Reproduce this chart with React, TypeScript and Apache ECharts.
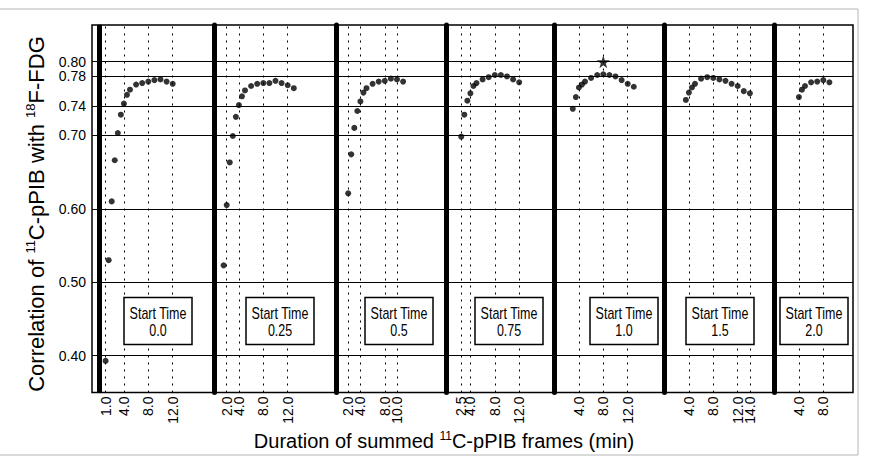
import React, { useEffect, useRef } from 'react';
import * as echarts from 'echarts';

// ---------- data ----------
const startTimes = ['0.0', '0.25', '0.5', '0.75', '1.0', '1.5', '2.0'];

const durations0 = [1, 1.5, 2, 2.5, 3, 3.5, 4, 4.5, 5, 6, 7, 8, 9, 10, 11, 12];
const corr0 = [0.393, 0.530, 0.610, 0.666, 0.703, 0.728, 0.743, 0.755, 0.762, 0.769, 0.771, 0.773, 0.775, 0.776, 0.773, 0.770];

const durations1 = [1.5, 2, 2.5, 3, 3.5, 4, 4.5, 5, 6, 7, 8, 9, 10, 11, 12, 13];
const corr1 = [0.523, 0.605, 0.663, 0.699, 0.725, 0.741, 0.753, 0.761, 0.767, 0.770, 0.771, 0.771, 0.774, 0.771, 0.768, 0.764];

const durations2 = [2, 2.5, 3, 3.5, 4, 4.5, 5, 6, 7, 8, 9, 10, 11];
const corr2 = [0.621, 0.674, 0.710, 0.733, 0.746, 0.758, 0.764, 0.770, 0.773, 0.774, 0.777, 0.776, 0.773];

const durations3 = [2.5, 3, 3.5, 4, 4.5, 5, 6, 7, 8, 9, 10, 11, 12];
const corr3 = [0.698, 0.728, 0.747, 0.757, 0.767, 0.771, 0.776, 0.779, 0.782, 0.782, 0.780, 0.776, 0.772];

const durations4 = [3, 3.5, 4, 4.5, 5, 6, 7, 8, 9, 10, 11, 12, 13];
const corr4 = [0.736, 0.752, 0.765, 0.769, 0.773, 0.778, 0.782, 0.783, 0.782, 0.780, 0.775, 0.770, 0.766];

const durations5 = [3.5, 4, 4.5, 5, 6, 7, 8, 9, 10, 11, 12, 13, 14];
const corr5 = [0.748, 0.758, 0.765, 0.770, 0.777, 0.779, 0.778, 0.776, 0.774, 0.770, 0.767, 0.760, 0.757];

const durations6 = [4, 4.5, 5, 6, 7, 8, 9];
const corr6 = [0.752, 0.762, 0.767, 0.772, 0.773, 0.775, 0.772];

const starPoint = [8, 0.80];
const starPanel = 4;

const xTicks0 = [1, 4, 8, 12];
const xTicks1 = [2, 4, 8, 12];
const xTicks2 = [2, 4, 8, 10];
const xTicks3 = [2.5, 4, 8, 12];
const xTicks4 = [4, 8, 12];
const xTicks5 = [4, 8, 12, 14];
const xTicks6 = [4, 8];

const yTicks = [0.40, 0.50, 0.60, 0.70, 0.74, 0.78, 0.80];
const yMin = 0.35;
const yMax = 0.85;

const durations = [durations0, durations1, durations2, durations3, durations4, durations5, durations6];
const corrs = [corr0, corr1, corr2, corr3, corr4, corr5, corr6];
const xTicks = [xTicks0, xTicks1, xTicks2, xTicks3, xTicks4, xTicks5, xTicks6];

// ---------- layout ----------
const plotLeft = 92;
const plotRight = 853;
const plotTop = 25;
const plotHeight = 367.5;
const panelZero = [99.5, 214.5, 336, 446, 554.5, 664.5, 774.5];
const PX_PER_MIN = 6.1;
const boxLeft = [124, 246, 365, 475, 590, 686, 780];
const boxTop = 297.5;
const boxW = 68;
const boxH = 47;

const FONT = 'Liberation Sans, Arial, Helvetica, sans-serif';
const STAR = 'path://M50,0 L61,35 L98,35 L68,57 L79,91 L50,70 L21,91 L32,57 L2,35 L39,35 Z';

function buildOption() {
  const grids: any[] = [];
  const xAxes: any[] = [];
  const yAxes: any[] = [];
  const series: any[] = [];
  const graphics: any[] = [];

  for (let i = 0; i < 7; i++) {
    const gl = i === 0 ? plotLeft : panelZero[i];
    const gr = i < 6 ? panelZero[i + 1] : plotRight;
    const xmin = (gl - panelZero[i]) / PX_PER_MIN;
    const xmax = (gr - panelZero[i]) / PX_PER_MIN;

    grids.push({
      left: gl,
      top: plotTop,
      width: gr - gl,
      height: plotHeight,
      show: true,
      borderColor: '#000',
      borderWidth: 1.5,
      backgroundColor: 'transparent',
      containLabel: false,
      outerBoundsMode: 'none',
    });

    // one x axis per tick label, so that no label is dropped for overlapping
    const mainXIndex = xAxes.length;
    xTicks[i].forEach((tick) => {
      xAxes.push({
        type: 'value',
        gridIndex: i,
        position: 'bottom',
        offset: 0,
        min: xmin,
        max: xmax,
        axisLine: { show: false },
        axisTick: { show: false },
        splitLine: { show: false },
        axisLabel: {
          customValues: [tick],
          rotate: 90,
          margin: 4,
          fontSize: 14,
          color: '#000',
          fontFamily: FONT,
          formatter: (v: number) => v.toFixed(1),
        },
      });
    });

    yAxes.push(
      i === 0
        ? {
            type: 'value',
            gridIndex: i,
            min: yMin,
            max: yMax,
            axisLine: { show: true, lineStyle: { color: '#000', width: 1.5 } },
            axisTick: { show: true, customValues: yTicks, length: 4, lineStyle: { color: '#000', width: 1 } },
            splitLine: { show: false },
            axisLabel: {
              customValues: yTicks,
              margin: 6,
              fontSize: 14,
              color: '#000',
              fontFamily: FONT,
              formatter: (v: number) => v.toFixed(2),
            },
          }
        : {
            type: 'value',
            gridIndex: i,
            min: yMin,
            max: yMax,
            axisLine: { show: true, lineStyle: { color: '#000', width: 5 } },
            axisTick: { show: false },
            splitLine: { show: false },
            axisLabel: { show: false },
          }
    );

    const mlData: any[] = [];
    yTicks.forEach((v) => mlData.push({ yAxis: v, lineStyle: { color: '#000', width: 1.2, type: 'solid' } }));
    xTicks[i].forEach((v) => mlData.push({ xAxis: v, lineStyle: { color: '#000', width: 1, type: [2, 5] } }));
    if (i === 0) mlData.push({ xAxis: 0, lineStyle: { color: '#000', width: 5, type: 'solid' } });

    series.push({
      type: 'scatter',
      xAxisIndex: mainXIndex,
      yAxisIndex: i,
      symbol: 'circle',
      symbolSize: 6,
      itemStyle: { color: '#000' },
      clip: false,
      z: 5,
      data: durations[i].map((d, k) => [d, corrs[i][k]]),
      markLine: {
        silent: true,
        symbol: ['none', 'none'],
        label: { show: false },
        z: 3,
        data: mlData,
      },
    });

    if (i === starPanel) {
      series.push({
        type: 'scatter',
        xAxisIndex: mainXIndex,
        yAxisIndex: i,
        symbol: STAR,
        symbolSize: 13,
        itemStyle: { color: '#000' },
        clip: false,
        z: 6,
        data: [starPoint],
      });
    }

    graphics.push({
      type: 'group',
      x: boxLeft[i],
      y: boxTop,
      z: 100,
      children: [
        {
          type: 'rect',
          shape: { x: 0, y: 0, width: boxW, height: boxH },
          style: { fill: '#fff', stroke: '#000', lineWidth: 1.5 },
          z: 100,
        },
        {
          type: 'text',
          x: boxW / 2,
          y: 16,
          scaleX: 0.78,
          z: 101,
          style: { text: 'Start Time', fill: '#000', font: `16px ${FONT}`, align: 'center', verticalAlign: 'middle' },
        },
        {
          type: 'text',
          x: boxW / 2,
          y: 33,
          scaleX: 0.78,
          z: 101,
          style: { text: startTimes[i], fill: '#000', font: `16px ${FONT}`, align: 'center', verticalAlign: 'middle' },
        },
      ],
    });
  }

  // figure frame
  graphics.push({
    type: 'rect',
    z: -1,
    shape: { x: -2, y: 9, width: 860, height: 446 },
    style: { fill: 'none', stroke: '#b4b4b4', lineWidth: 1 },
  });

  // axis titles
  graphics.push({
    type: 'text',
    x: 444,
    y: 441,
    z: 50,
    style: {
      text: 'Duration of summed {sup|11}C-pPIB frames (min)',
      font: `20px ${FONT}`,
      fill: '#000',
      align: 'center',
      verticalAlign: 'middle',
      lineHeight: 22,
      rich: { sup: { fontSize: 12, lineHeight: 12, verticalAlign: 'top', fontFamily: FONT, fill: '#000' } },
    },
  });
  graphics.push({
    type: 'text',
    x: 36,
    y: 214,
    rotation: Math.PI / 2,
    z: 50,
    style: {
      text: 'Correlation of {sup|11}C-pPIB with {sup|18}F-FDG',
      font: `22px ${FONT}`,
      fill: '#000',
      align: 'center',
      verticalAlign: 'middle',
      lineHeight: 24,
      rich: { sup: { fontSize: 13, lineHeight: 13, verticalAlign: 'top', fontFamily: FONT, fill: '#000' } },
    },
  });

  return {
    animation: false,
    backgroundColor: '#fff',
    grid: grids,
    xAxis: xAxes,
    yAxis: yAxes,
    series,
    graphic: graphics,
  };
}

export default function App() {
  const ref = useRef<HTMLDivElement>(null);
  useEffect(() => {
    const chart = echarts.init(ref.current as HTMLDivElement, null, { renderer: 'svg' });
    chart.setOption(buildOption() as any);
    return () => chart.dispose();
  }, []);
  return (
    <div
      ref={ref}
      style={{ position: 'fixed', left: 0, top: 0, width: 870, height: 463, background: '#fff' }}
    />
  );
}
